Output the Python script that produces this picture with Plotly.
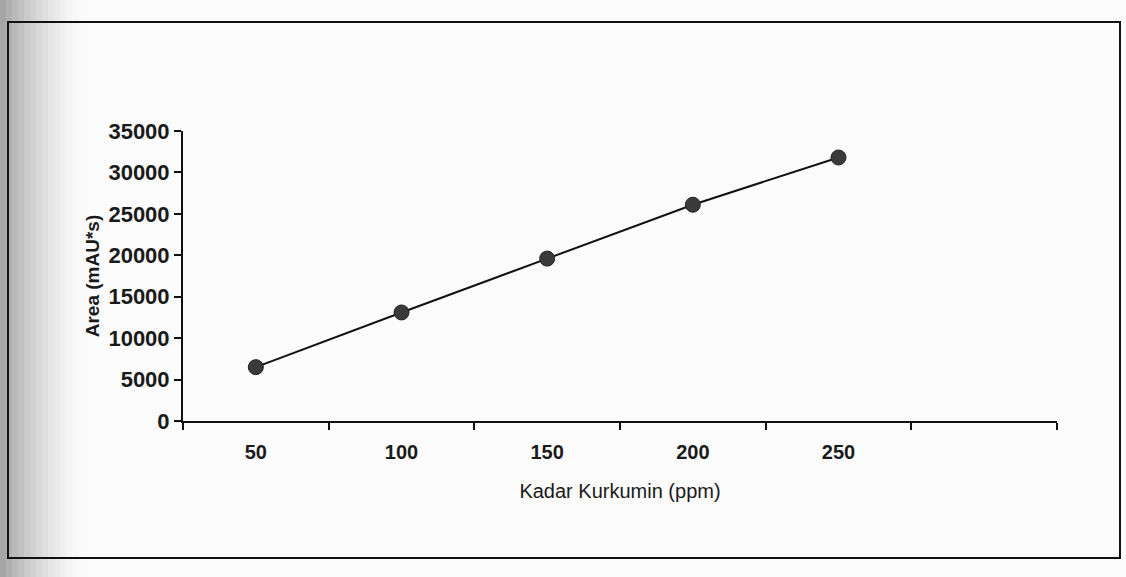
import plotly.graph_objects as go

# Data
kadar_ppm = [50, 100, 150, 200, 250]
area_mAUs = [6500, 13100, 19600, 26100, 31800]
x_tick_labels = ["50", "100", "150", "200", "250"]
y_tick_values = [0, 5000, 10000, 15000, 20000, 25000, 30000, 35000]
y_tick_labels = [str(v) for v in y_tick_values]

W, H = 1126, 577
L, R, T, B = 183, 69, 131, 156
pw, ph = W - L - R, H - T - B


def px_x(p):
    return (p - L) / pw


def px_y(p):
    return (H - B - p) / ph


fig = go.Figure()
fig.add_trace(go.Scatter(
    x=kadar_ppm, y=area_mAUs, mode="lines+markers",
    line=dict(color="#111111", width=2),
    marker=dict(size=15, color="#3a3a3a", line=dict(color="#222222", width=1)),
    showlegend=False,
))

shapes = []
# scanned grey shading on the left edge
steps = 14
for i in range(steps):
    x0 = i * 6
    shapes.append(dict(type="rect", xref="paper", yref="paper",
                       x0=px_x(x0), x1=px_x(x0 + 6), y0=px_y(H), y1=px_y(0),
                       fillcolor="#8a8a8a", opacity=0.75 * (1 - i / steps) ** 1.6,
                       line=dict(width=0), layer="below"))
# outer chart frame
shapes.append(dict(type="rect", xref="paper", yref="paper",
                   x0=px_x(8), x1=px_x(1120), y0=px_y(558), y1=px_y(22),
                   line=dict(color="#111111", width=2), fillcolor="rgba(0,0,0,0)"))

fig.update_layout(
    width=W, height=H,
    margin=dict(l=L, r=R, t=T, b=B),
    paper_bgcolor="#fbfbfb", plot_bgcolor="#fbfbfb",
    font=dict(family="Liberation Sans, Arial, sans-serif", color="#1a1a1a"),
    shapes=shapes,
    xaxis=dict(
        range=[25, 325], tickvals=kadar_ppm, ticktext=x_tick_labels,
        ticks="", showgrid=False, zeroline=False,
        showline=True, linecolor="#111111", linewidth=2,
        tickfont=dict(size=20, family="Liberation Sans, Arial", weight="bold"),
        ticklabelstandoff=12,
        minor=dict(tick0=25, dtick=50, ticks="outside", ticklen=7,
                   tickcolor="#111111", tickwidth=1.5, showgrid=False),
        title=dict(text="Kadar Kurkumin (ppm)", standoff=22,
                   font=dict(size=20, family="Liberation Sans, Arial")),
    ),
    yaxis=dict(
        range=[0, 35000], tickvals=y_tick_values, ticktext=y_tick_labels,
        ticks="outside", ticklen=7, tickcolor="#111111", tickwidth=1.5,
        showgrid=False, zeroline=False,
        showline=True, linecolor="#111111", linewidth=2,
        tickfont=dict(size=22, family="Liberation Sans, Arial", weight="bold"),
        title=dict(text="Area (mAU*s)", standoff=4,
                   font=dict(size=19, family="Liberation Sans, Arial", weight="bold")),
    ),
)

fig.write_html("out.html")
